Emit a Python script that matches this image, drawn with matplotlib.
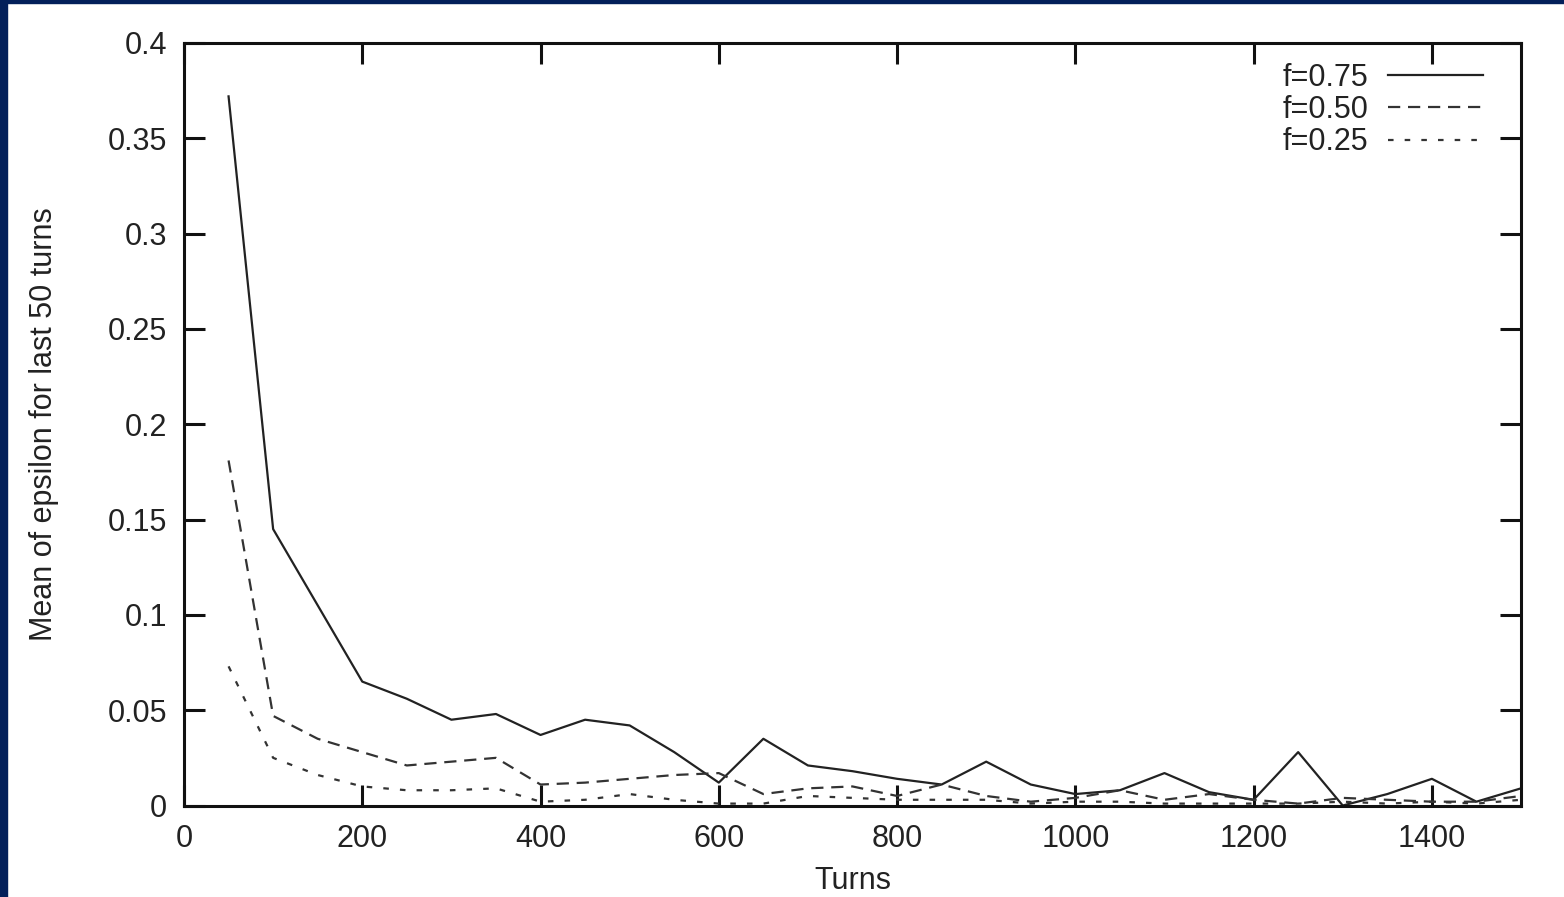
import numpy as np
import matplotlib.pyplot as plt
from matplotlib.patches import Rectangle

plt.rcParams['font.family'] = ['Liberation Sans', 'DejaVu Sans']

# turns (one point every 50 turns)
turns = np.arange(50, 1501, 50)

# mean epsilon for last 50 turns
eps_075 = [0.372, 0.145, 0.105, 0.065, 0.056, 0.045, 0.048, 0.037, 0.045, 0.042,
           0.028, 0.012, 0.035, 0.021, 0.018, 0.014, 0.011, 0.023, 0.011, 0.006,
           0.008, 0.017, 0.007, 0.003, 0.028, 0.000, 0.006, 0.014, 0.002, 0.009]
eps_050 = [0.181, 0.047, 0.035, 0.028, 0.021, 0.023, 0.025, 0.011, 0.012, 0.014,
           0.016, 0.017, 0.006, 0.009, 0.010, 0.005, 0.011, 0.005, 0.002, 0.004,
           0.008, 0.003, 0.006, 0.003, 0.001, 0.004, 0.003, 0.002, 0.002, 0.005]
eps_025 = [0.073, 0.025, 0.016, 0.010, 0.008, 0.008, 0.009, 0.002, 0.003, 0.006,
           0.003, 0.001, 0.001, 0.005, 0.004, 0.003, 0.003, 0.003, 0.001, 0.002,
           0.002, 0.001, 0.001, 0.001, 0.001, 0.002, 0.001, 0.002, 0.001, 0.003]
labels = ['f=0.75', 'f=0.50', 'f=0.25']

fig = plt.figure(figsize=(15.64, 8.97), dpi=100)
fig.patch.set_facecolor('white')

# navy frame on left and top edges
fig.patches.append(Rectangle((0, 0), 7 / 1564, 1, transform=fig.transFigure,
                             color='#03205a', zorder=0))
fig.patches.append(Rectangle((0, 1 - 3 / 897), 1, 3 / 897, transform=fig.transFigure,
                             color='#03205a', zorder=0))

ax = fig.add_axes([184 / 1564, 91.5 / 897, (1521 - 184) / 1564, (805.5 - 43) / 897])

txt = '#222222'
ax.plot(turns, eps_075, color='#222222', lw=1.6, label=labels[0])
ax.plot(turns, eps_050, color='#333333', lw=1.6, dashes=(5.5, 3.5), label=labels[1])
ax.plot(turns, eps_025, color='#333333', lw=1.6, dashes=(2.5, 5.0), label=labels[2])

ax.set_xlim(0, 1500)
ax.set_ylim(0, 0.4)
ax.set_xticks(np.arange(0, 1401, 200))
ax.set_yticks(np.arange(0, 0.401, 0.05))
ax.set_yticklabels(['0', '0.05', '0.1', '0.15', '0.2', '0.25', '0.3', '0.35', '0.4'])

for s in ax.spines.values():
    s.set_linewidth(2.2)
    s.set_color('#111111')
ax.tick_params(direction='in', length=15, width=2.2, color='#111111',
               top=True, right=True, labelsize=22, labelcolor=txt)
ax.tick_params(axis='x', pad=13)
ax.tick_params(axis='y', pad=12)

ax.set_xlabel('Turns', fontsize=22, color=txt, labelpad=9)
ax.set_ylabel('Mean of epsilon for last 50 turns', fontsize=22, color=txt, labelpad=35)

ax.legend(loc='upper right', frameon=False, fontsize=22, markerfirst=False,
          bbox_to_anchor=(1 - 38 / 1337, 1 - 20 / 762), borderaxespad=0, borderpad=0,
          handlelength=3.1, handletextpad=0.65, labelspacing=0.07,
          labelcolor=txt)

fig.savefig('out.png', dpi=100)
